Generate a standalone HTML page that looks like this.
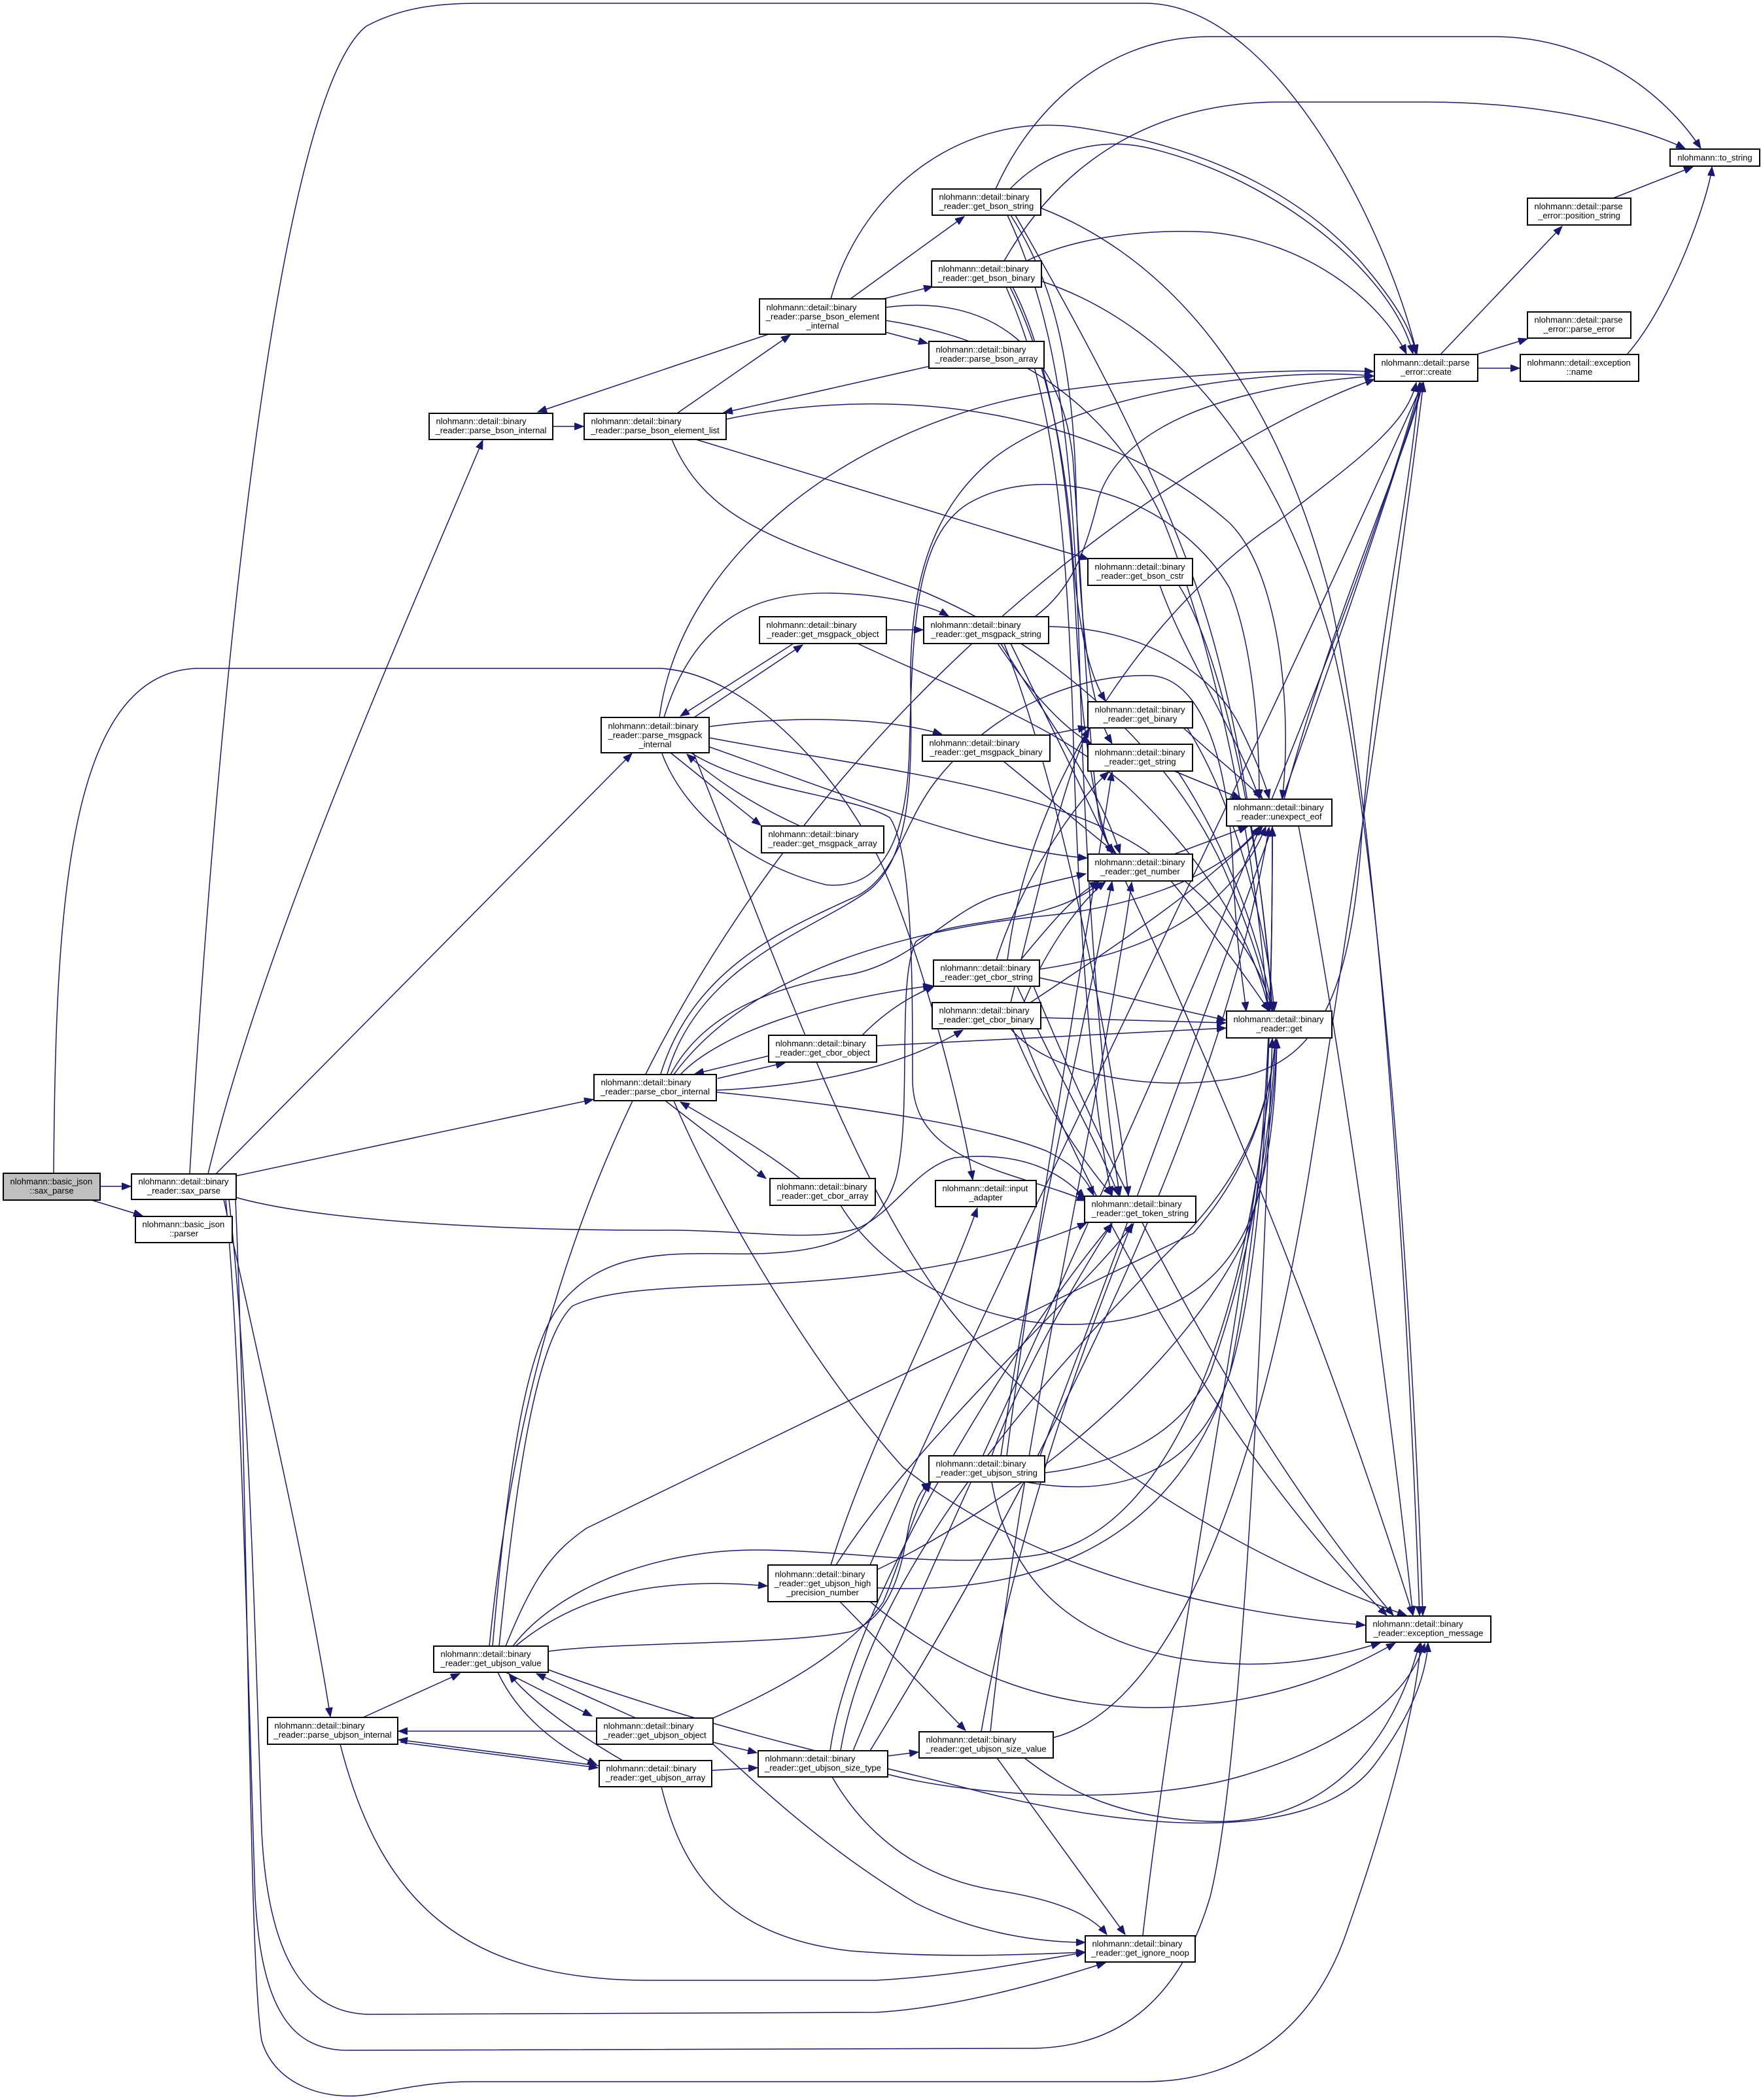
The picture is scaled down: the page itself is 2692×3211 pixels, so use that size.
<!DOCTYPE html>
<html><head><meta charset="utf-8">
<style>
html,body{margin:0;padding:0;background:#fff;}
svg{display:block;}
.e path{fill:none;stroke:#191970;stroke-width:1.5;marker-end:url(#a);}
.n rect{fill:#fff;stroke:#000;stroke-width:2;}
.n text{font-family:"Liberation Sans",Arial,sans-serif;font-size:13px;fill:#000;}
.n text.c{text-anchor:middle;}
</style></head>
<body>
<svg width="2692" height="3211" viewBox="0 0 2692 3211" xmlns="http://www.w3.org/2000/svg">
<defs>
<marker id="a" markerUnits="userSpaceOnUse" markerWidth="15" markerHeight="11" refX="14" refY="5.5" orient="auto">
<path d="M0,0 L14,5.5 L0,11 z" fill="#191970" stroke="#191970" stroke-width="1"/>
</marker>
</defs>
<rect x="0" y="0" width="2692" height="3211" fill="#fff"/>
<g class="e">
<!-- basic_json::sax_parse -->
<path d="M153,1814 L200,1814"/>
<path d="M140,1835 L218,1859"/>
<path d="M82,1794 C85,1400 100,1030 300,1022 L1010,1022 C1150,1030 1300,1200 1360,1350 C1420,1500 1470,1700 1487,1804"/>
<!-- binary_reader::sax_parse -->
<path d="M290,1795 C330,1100 420,150 560,40 C620,8 680,5 740,5 L1750,5 C1950,5 2120,350 2166,541"/>
<path d="M318,1795 C400,1450 600,1000 738,673"/>
<path d="M330,1795 L966,1152"/>
<path d="M361,1798 L907,1681"/>
<path d="M361,1831 C500,1870 800,1882 1029,1881 C1150,1882 1250,1900 1314,1877 C1370,1850 1400,1785 1460,1770 C1560,1760 1620,1790 1658,1832"/>
<path d="M342,1834 C400,2100 470,2400 505,2625"/>
<path d="M350,1834 C380,2100 390,2500 400,2800 C410,3000 470,3080 567,3080 L1339,3077 C1460,3070 1600,3030 1690,3001"/>
<path d="M345,1834 C370,2100 380,2600 390,2900 C400,3080 450,3135 532,3135 L1579,3132 C1700,3130 1800,3070 1850,2900 C1900,2700 1930,2000 1945,1588"/>
<path d="M360,1834 C380,2300 380,3000 400,3120 C420,3190 500,3212 560,3203 C620,3193 660,3183 720,3183 L1750,3183 C1900,3183 2010,3100 2060,2950 C2130,2750 2165,2600 2172,2512"/>
<!-- bson -->
<path d="M845,652 L892,652"/>
<path d="M1035,632 L1208,512"/>
<path d="M1064,672 L1664,855"/>
<path d="M1027,672 C1080,800 1200,830 1400,900 C1600,980 1800,1150 1880,1350 C1920,1450 1935,1500 1940,1546"/>
<path d="M1110,641 C1400,580 1700,640 1880,800 C1960,880 1975,1100 1960,1222"/>
<path d="M1175,511 L822,630"/>
<path d="M1300,457 L1474,331"/>
<path d="M1350,457 L1426,438"/>
<path d="M1354,508 L1418,525"/>
<path d="M1270,457 C1320,280 1480,170 1650,195 C1850,225 1990,300 2080,400 C2140,470 2160,510 2164,541"/>
<path d="M1354,470 C1500,450 1620,520 1640,700 C1655,900 1660,1100 1680,1250 C1690,1290 1700,1300 1705,1305"/>
<path d="M1354,490 C1550,520 1700,620 1780,800 C1860,1000 1920,1300 1938,1546"/>
<path d="M1421,560 L1106,631"/>
<!-- get_bson_string -->
<path d="M1522,289 C1570,180 1680,56 1850,56 L2283,56 C2440,56 2550,150 2600,227"/>
<path d="M1544,289 C1600,230 1680,210 1750,225 C1950,270 2130,420 2160,541"/>
<path d="M1545,329 C1610,430 1640,550 1645,750 C1650,950 1665,1080 1700,1137"/>
<path d="M1552,329 C1650,500 1760,700 1830,900 C1900,1100 1935,1400 1945,1546"/>
<path d="M1540,329 C1620,500 1640,700 1650,1000 C1660,1400 1690,1700 1712,1828"/>
<path d="M1591,318 C1800,400 1950,600 2030,900 C2100,1200 2150,1900 2170,2470"/>
<!-- get_bson_binary -->
<path d="M1535,399 C1620,250 1760,156 1957,156 L2180,156 C2380,156 2520,200 2576,227"/>
<path d="M1569,399 C1650,360 1760,350 1850,355 C2000,370 2110,460 2150,541"/>
<path d="M1544,439 C1600,550 1630,700 1640,850 C1650,980 1670,1040 1690,1072"/>
<path d="M1548,439 C1610,560 1635,750 1645,950 C1655,1150 1680,1260 1700,1305"/>
<path d="M1538,439 C1610,600 1630,800 1640,1100 C1650,1500 1680,1750 1700,1828"/>
<path d="M1592,430 C1800,500 1960,700 2040,1000 C2110,1300 2160,2000 2175,2470"/>
<!-- get_bson_cstr -->
<path d="M1773,895 C1810,1000 1890,1120 1925,1221"/>
<path d="M1802,895 C1870,1000 1930,1300 1945,1546"/>
<!-- msgpack -->
<path d="M1061,1097 L1227,986"/>
<path d="M1213,984 L1040,1095"/>
<path d="M1355,963 L1411,963"/>
<path d="M1311,984 C1450,1050 1600,1100 1720,1200 C1850,1320 1920,1450 1940,1546"/>
<path d="M1015,1097 C1060,950 1150,905 1270,907 C1350,908 1420,925 1450,942"/>
<path d="M1084,1111 C1200,1095 1350,1095 1440,1123"/>
<path d="M1025,1151 L1163,1262"/>
<path d="M1223,1263 C1150,1230 1090,1190 1050,1153"/>
<path d="M1084,1142 C1250,1200 1500,1300 1662,1312"/>
<path d="M1084,1128 C1300,1170 1600,1200 1750,1300 C1880,1390 1930,1480 1945,1546"/>
<path d="M1012,1152 C1040,1230 1130,1320 1263,1353 C1340,1360 1385,1300 1390,1150 C1395,950 1400,820 1480,770 C1600,700 1800,760 1880,900 C1920,1000 1925,1150 1925,1221"/>
<path d="M1056,1151 C1150,1210 1300,1215 1360,1250 C1395,1300 1395,1500 1395,1650 C1395,1780 1550,1790 1660,1836"/>
<path d="M1008,1097 C1040,850 1300,650 1600,600 C1850,565 2000,565 2100,568"/>
<path d="M1060,1151 C1200,1500 1300,1800 1450,2000 C1650,2250 1950,2400 2150,2470"/>
<path d="M1582,943 C1640,900 1660,840 1680,760 C1720,640 1900,590 2100,575"/>
<path d="M1525,984 C1570,1050 1620,1110 1668,1137"/>
<path d="M1530,984 C1600,1100 1680,1200 1712,1305"/>
<path d="M1603,958 C1750,960 1850,1030 1890,1100 C1920,1160 1935,1200 1940,1221"/>
<path d="M1535,984 C1620,1200 1700,1600 1725,1828"/>
<path d="M1545,984 C1700,1300 1950,1800 2160,2470"/>
<path d="M1604,1123 L1662,1112"/>
<path d="M1534,1164 L1706,1305"/>
<!-- get_binary / get_string / get_number -->
<path d="M1809,1113 C1860,1160 1910,1200 1930,1221"/>
<path d="M1815,1113 C1900,1250 1940,1450 1948,1546"/>
<path d="M1795,1179 L1897,1221"/>
<path d="M1800,1179 C1880,1300 1930,1450 1945,1546"/>
<path d="M1795,1306 L1907,1264"/>
<path d="M1790,1347 C1850,1420 1910,1500 1940,1546"/>
<!-- unexpect_eof -->
<path d="M1963,1222 C2050,900 2150,700 2175,585"/>
<path d="M1985,1263 C2050,1600 2120,2100 2160,2470"/>
<!-- create etc -->
<path d="M2202,542 L2388,346"/>
<path d="M2257,542 L2335,518"/>
<path d="M2259,563 L2323,563"/>
<path d="M2466,303 L2588,255"/>
<path d="M2487,542 C2554,467 2613,300 2617,255"/>
<!-- cbor -->
<path d="M1097,1649 L1200,1625"/>
<path d="M1177,1614 L1062,1642"/>
<path d="M1017,1683 L1171,1802"/>
<path d="M1223,1802 C1170,1760 1100,1720 1040,1685"/>
<path d="M1040,1643 C1100,1580 1250,1530 1425,1507"/>
<path d="M1095,1667 C1250,1660 1380,1630 1472,1575"/>
<path d="M1025,1643 C1080,1540 1200,1505 1300,1490 C1400,1470 1450,1390 1530,1368 C1580,1355 1620,1345 1660,1336"/>
<path d="M1030,1643 C1150,1480 1400,1420 1600,1400 C1750,1385 1880,1330 1925,1264"/>
<path d="M1095,1670 C1300,1690 1500,1720 1600,1760 C1640,1780 1660,1800 1672,1828"/>
<path d="M1020,1642 C1070,1470 1250,1420 1330,1360 C1390,1310 1395,1200 1392,1050 C1390,900 1420,780 1520,700 C1650,600 1950,560 2100,575"/>
<path d="M1010,1642 C1060,1480 1200,1420 1310,1370 C1370,1340 1380,1260 1430,1195 C1520,1080 1650,1030 1760,1033 C1850,1040 1880,1200 1885,1330 C1890,1450 1900,1500 1905,1546"/>
<path d="M1030,1683 C1100,1850 1250,2100 1380,2243 C1550,2380 1800,2460 2087,2485"/>
<path d="M1318,1583 C1360,1540 1400,1520 1428,1508"/>
<path d="M1340,1599 L1874,1572"/>
<path d="M1285,1843 C1350,1950 1500,2030 1650,2025 C1800,2020 1900,1950 1930,1800 C1945,1700 1950,1640 1952,1589"/>
<path d="M1523,1468 C1560,1350 1640,1230 1695,1180"/>
<path d="M1560,1468 C1600,1420 1640,1370 1680,1348"/>
<path d="M1589,1495 L1874,1560"/>
<path d="M1589,1482 C1740,1460 1880,1400 1935,1264"/>
<path d="M1555,1508 C1620,1650 1680,1750 1710,1828"/>
<path d="M1540,1468 C1580,1150 1800,900 1950,800 C2080,700 2150,650 2165,585"/>
<path d="M1580,1508 C1700,1800 1900,2200 2130,2470"/>
<path d="M1545,1533 C1590,1350 1630,1180 1665,1114"/>
<path d="M1565,1533 C1600,1450 1650,1380 1690,1348"/>
<path d="M1591,1556 L1874,1564"/>
<path d="M1575,1533 C1700,1450 1850,1350 1930,1264"/>
<path d="M1548,1573 C1600,1700 1660,1780 1700,1828"/>
<path d="M1545,1573 C1600,1640 1750,1670 1880,1650 C2000,1630 2060,1550 2080,1300 C2100,1000 2150,800 2170,585"/>
<path d="M1560,1573 C1650,1800 1850,2200 2120,2470"/>
<!-- ubjson string -->
<path d="M1539,2226 C1580,1900 1650,1500 1700,1180"/>
<path d="M1530,2226 C1570,1950 1650,1600 1700,1348"/>
<path d="M1597,2252 C1700,2240 1800,2200 1850,2100 C1920,1900 1945,1700 1950,1589"/>
<path d="M1568,2266 C1700,2290 1830,2260 1880,2100 C1940,1800 1945,1500 1945,1265"/>
<path d="M1516,2226 C1560,2100 1650,1950 1700,1871"/>
<path d="M1590,2226 C1750,1800 2050,1000 2175,585"/>
<path d="M1516,2266 C1540,2400 1620,2500 1800,2535 C1950,2560 2050,2530 2110,2512"/>
<!-- high precision -->
<path d="M1270,2393 C1330,2200 1440,2000 1494,1847"/>
<path d="M1278,2393 C1400,2200 1650,1980 1733,1871"/>
<path d="M1284,2449 L1476,2646"/>
<path d="M1330,2449 C1450,2550 1600,2620 1800,2610 C1950,2600 2050,2560 2133,2512"/>
<path d="M1330,2393 C1500,2000 1900,1200 2175,585"/>
<path d="M1341,2400 C1550,2300 1800,2100 1900,1900 C1940,1800 1950,1700 1952,1589"/>
<path d="M1341,2428 C1600,2440 1800,2350 1880,2100 C1940,1900 1945,1500 1945,1265"/>
<!-- ubjson value -->
<path d="M838,2525 C950,2510 1200,2515 1300,2495 C1370,2470 1380,2380 1390,2330 C1400,2290 1410,2275 1423,2267"/>
<path d="M773,2557 L905,2624"/>
<path d="M761,2557 C790,2620 850,2670 912,2698"/>
<path d="M788,2517 C880,2440 1000,2410 1173,2425"/>
<path d="M838,2553 C1100,2650 1350,2700 1500,2740 C1700,2790 2000,2830 2100,2700 C2160,2620 2180,2560 2183,2512"/>
<path d="M773,2517 C820,2400 850,2370 896,2337 L1824,1886 C1900,1800 1940,1700 1950,1589"/>
<path d="M784,2517 C850,2430 1000,2370 1155,2370 C1300,2370 1450,2400 1590,2377 C1800,2340 1900,2000 1935,1700 C1945,1500 1945,1350 1945,1265"/>
<path d="M763,2517 C790,2250 820,2050 875,1997 C920,1975 1000,1970 1100,1966 C1300,1960 1500,1940 1661,1870"/>
<path d="M753,2517 C780,2200 810,2050 860,1990 C920,1920 1000,1915 1110,1917 C1250,1920 1340,1900 1370,1800 C1395,1700 1370,1500 1400,1440 C1450,1400 1600,1420 1683,1349"/>
<path d="M748,2517 C790,2100 900,1700 1200,1300 C1500,900 1900,650 2101,580"/>
<!-- ubjson internal/object/array -->
<path d="M555,2626 L703,2559"/>
<path d="M520,2667 C580,2900 700,3030 1000,3028 L1340,3028 C1480,3020 1600,2995 1659,2985"/>
<path d="M912,2647 L609,2647"/>
<path d="M972,2627 L820,2559"/>
<path d="M1090,2627 C1200,2580 1300,2520 1350,2450 C1380,2380 1400,2300 1423,2267"/>
<path d="M1090,2664 L1157,2680"/>
<path d="M1090,2667 C1150,2720 1250,2820 1400,2910 C1500,2960 1600,2970 1659,2970"/>
<path d="M916,2700 L609,2660"/>
<path d="M612,2664 L914,2703"/>
<path d="M952,2692 C880,2650 810,2600 778,2559"/>
<path d="M1088,2707 L1158,2703"/>
<path d="M1011,2732 C1040,2850 1100,2960 1300,2983 C1450,2995 1580,2988 1659,2985"/>
<!-- size type / value -->
<path d="M1357,2685 L1404,2679"/>
<path d="M1272,2717 C1320,2800 1400,2870 1520,2890 C1620,2905 1670,2930 1692,2958"/>
<path d="M1357,2713 C1500,2750 1750,2760 1900,2715 C2050,2670 2150,2600 2178,2513"/>
<path d="M1285,2677 C1330,2400 1600,2100 1800,1900 C1900,1800 1940,1700 1950,1589"/>
<path d="M1269,2677 C1300,2450 1550,2050 1700,1871"/>
<path d="M1304,2677 C1500,2200 2000,1200 2172,585"/>
<path d="M1330,2677 C1500,2400 1850,1800 1940,1265"/>
<path d="M1514,2648 C1560,2200 1680,1700 1730,1349"/>
<path d="M1524,2688 L1720,2958"/>
<path d="M1566,2688 C1620,2730 1700,2780 1850,2785 C2000,2790 2120,2700 2170,2513"/>
<path d="M1500,2648 C1560,2300 1680,2000 1730,1871"/>
<path d="M1610,2657 C1750,2620 1900,2400 2000,1800 C2080,1300 2150,800 2176,585"/>
<!-- ignore_noop -->
<path d="M1747,2959 C1800,2500 1900,2000 1950,1589"/>
</g>
<g class="n">
<rect x="5" y="1794" width="148" height="41" style="fill:#bfbfbf"/>
<text x="15.5" y="1811">nlohmann::basic_json</text><text class="c" x="79" y="1825">::sax_parse</text>
<rect x="201" y="1795" width="160" height="39"/>
<text x="211.5" y="1811">nlohmann::detail::binary</text><text class="c" x="281" y="1825">_reader::sax_parse</text>
<rect x="207" y="1860" width="148" height="40"/>
<text x="217.5" y="1876.5">nlohmann::basic_json</text><text class="c" x="281" y="1890.5">::parser</text>
<rect x="656" y="632" width="189" height="40"/>
<text x="666.5" y="648.5">nlohmann::detail::binary</text><text class="c" x="750.5" y="662.5">_reader::parse_bson_internal</text>
<rect x="893" y="632" width="217" height="40"/>
<text x="903.5" y="648.5">nlohmann::detail::binary</text><text class="c" x="1001.5" y="662.5">_reader::parse_bson_element_list</text>
<rect x="1161" y="457" width="193" height="54"/>
<text x="1171.5" y="474.5">nlohmann::detail::binary</text><text class="c" x="1257.5" y="488.5">_reader::parse_bson_element</text><text class="c" x="1257.5" y="502.5">_internal</text>
<rect x="1420" y="522" width="176" height="41"/>
<text x="1430.5" y="539">nlohmann::detail::binary</text><text class="c" x="1508" y="553">_reader::parse_bson_array</text>
<rect x="1425" y="289" width="166" height="40"/>
<text x="1435.5" y="305.5">nlohmann::detail::binary</text><text class="c" x="1508" y="319.5">_reader::get_bson_string</text>
<rect x="1424" y="399" width="168" height="40"/>
<text x="1434.5" y="415.5">nlohmann::detail::binary</text><text class="c" x="1508" y="429.5">_reader::get_bson_binary</text>
<rect x="2101" y="542" width="158" height="41"/>
<text x="2111.5" y="559">nlohmann::detail::parse</text><text class="c" x="2180" y="573">_error::create</text>
<rect x="2553" y="228" width="137" height="26"/>
<text class="c" x="2621.5" y="245.5">nlohmann::to_string</text>
<rect x="2335" y="303" width="158" height="41"/>
<text x="2345.5" y="320">nlohmann::detail::parse</text><text class="c" x="2414" y="334">_error::position_string</text>
<rect x="2335" y="477" width="158" height="40"/>
<text x="2345.5" y="493.5">nlohmann::detail::parse</text><text class="c" x="2414" y="507.5">_error::parse_error</text>
<rect x="2324" y="542" width="181" height="41"/>
<text x="2334.5" y="559">nlohmann::detail::exception</text><text class="c" x="2414.5" y="573">::name</text>
<rect x="1663" y="854" width="160" height="41"/>
<text x="1673.5" y="871">nlohmann::detail::binary</text><text class="c" x="1743" y="885">_reader::get_bson_cstr</text>
<rect x="1161" y="943" width="194" height="41"/>
<text x="1171.5" y="960">nlohmann::detail::binary</text><text class="c" x="1258" y="974">_reader::get_msgpack_object</text>
<rect x="1412" y="943" width="191" height="41"/>
<text x="1422.5" y="960">nlohmann::detail::binary</text><text class="c" x="1507.5" y="974">_reader::get_msgpack_string</text>
<rect x="919" y="1097" width="165" height="54"/>
<text x="929.5" y="1114.5">nlohmann::detail::binary</text><text class="c" x="1001.5" y="1128.5">_reader::parse_msgpack</text><text class="c" x="1001.5" y="1142.5">_internal</text>
<rect x="1410" y="1124" width="195" height="40"/>
<text x="1420.5" y="1140.5">nlohmann::detail::binary</text><text class="c" x="1507.5" y="1154.5">_reader::get_msgpack_binary</text>
<rect x="1663" y="1073" width="160" height="40"/>
<text x="1673.5" y="1089.5">nlohmann::detail::binary</text><text class="c" x="1743" y="1103.5">_reader::get_binary</text>
<rect x="1663" y="1138" width="160" height="41"/>
<text x="1673.5" y="1155">nlohmann::detail::binary</text><text class="c" x="1743" y="1169">_reader::get_string</text>
<rect x="1875" y="1222" width="161" height="41"/>
<text x="1885.5" y="1239">nlohmann::detail::binary</text><text class="c" x="1955.5" y="1253">_reader::unexpect_eof</text>
<rect x="1164" y="1263" width="187" height="41"/>
<text x="1174.5" y="1280">nlohmann::detail::binary</text><text class="c" x="1257.5" y="1294">_reader::get_msgpack_array</text>
<rect x="1663" y="1306" width="160" height="41"/>
<text x="1673.5" y="1323">nlohmann::detail::binary</text><text class="c" x="1743" y="1337">_reader::get_number</text>
<rect x="1427" y="1468" width="162" height="40"/>
<text x="1437.5" y="1484.5">nlohmann::detail::binary</text><text class="c" x="1508" y="1498.5">_reader::get_cbor_string</text>
<rect x="1425" y="1533" width="166" height="40"/>
<text x="1435.5" y="1549.5">nlohmann::detail::binary</text><text class="c" x="1508" y="1563.5">_reader::get_cbor_binary</text>
<rect x="1175" y="1583" width="165" height="41"/>
<text x="1185.5" y="1600">nlohmann::detail::binary</text><text class="c" x="1257.5" y="1614">_reader::get_cbor_object</text>
<rect x="908" y="1643" width="187" height="40"/>
<text x="918.5" y="1659.5">nlohmann::detail::binary</text><text class="c" x="1001.5" y="1673.5">_reader::parse_cbor_internal</text>
<rect x="1875" y="1546" width="161" height="41"/>
<text x="1885.5" y="1563">nlohmann::detail::binary</text><text class="c" x="1955.5" y="1577">_reader::get</text>
<rect x="1177" y="1802" width="161" height="41"/>
<text x="1187.5" y="1819">nlohmann::detail::binary</text><text class="c" x="1257.5" y="1833">_reader::get_cbor_array</text>
<rect x="1430" y="1805" width="154" height="40"/>
<text x="1440.5" y="1821.5">nlohmann::detail::input</text><text class="c" x="1507" y="1835.5">_adapter</text>
<rect x="1658" y="1829" width="170" height="40"/>
<text x="1668.5" y="1845.5">nlohmann::detail::binary</text><text class="c" x="1743" y="1859.5">_reader::get_token_string</text>
<rect x="1420" y="2226" width="177" height="40"/>
<text x="1430.5" y="2242.5">nlohmann::detail::binary</text><text class="c" x="1508.5" y="2256.5">_reader::get_ubjson_string</text>
<rect x="1174" y="2393" width="167" height="56"/>
<text x="1184.5" y="2411.5">nlohmann::detail::binary</text><text class="c" x="1257.5" y="2425.5">_reader::get_ubjson_high</text><text class="c" x="1257.5" y="2439.5">_precision_number</text>
<rect x="2088" y="2471" width="191" height="40"/>
<text x="2098.5" y="2487.5">nlohmann::detail::binary</text><text class="c" x="2183.5" y="2501.5">_reader::exception_message</text>
<rect x="663" y="2517" width="175" height="40"/>
<text x="673.5" y="2533.5">nlohmann::detail::binary</text><text class="c" x="750.5" y="2547.5">_reader::get_ubjson_value</text>
<rect x="409" y="2626" width="199" height="41"/>
<text x="419.5" y="2643">nlohmann::detail::binary</text><text class="c" x="508.5" y="2657">_reader::parse_ubjson_internal</text>
<rect x="912" y="2627" width="178" height="40"/>
<text x="922.5" y="2643.5">nlohmann::detail::binary</text><text class="c" x="1001" y="2657.5">_reader::get_ubjson_object</text>
<rect x="916" y="2692" width="172" height="40"/>
<text x="926.5" y="2708.5">nlohmann::detail::binary</text><text class="c" x="1002" y="2722.5">_reader::get_ubjson_array</text>
<rect x="1159" y="2677" width="198" height="40"/>
<text x="1169.5" y="2693.5">nlohmann::detail::binary</text><text class="c" x="1258" y="2707.5">_reader::get_ubjson_size_type</text>
<rect x="1405" y="2648" width="205" height="40"/>
<text x="1415.5" y="2664.5">nlohmann::detail::binary</text><text class="c" x="1507.5" y="2678.5">_reader::get_ubjson_size_value</text>
<rect x="1659" y="2960" width="168" height="40"/>
<text x="1669.5" y="2976.5">nlohmann::detail::binary</text><text class="c" x="1743" y="2990.5">_reader::get_ignore_noop</text>
</g>
</svg>
</body></html>
